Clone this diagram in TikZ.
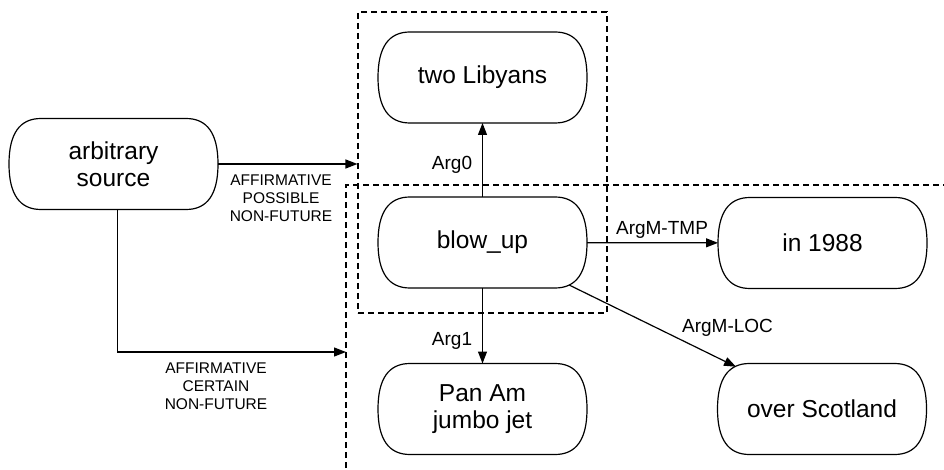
\documentclass[tikz,border=0pt]{standalone}
\usepackage{fontspec}
\setmainfont{Liberation Sans}
\usetikzlibrary{arrows.meta,calc}
\begin{document}
\begin{tikzpicture}[x=1pt,y=-1pt,
  box/.style={rectangle, outer sep=0pt, minimum width=209pt, minimum height=91pt,
    inner sep=0pt, align=center, font=\fontsize{24.5}{27}\selectfont},
  pill/.style={line width=1.2pt},
  dashbox/.style={draw, line width=1.1pt, dash pattern=on 6pt off 4pt},
  arr/.style={line width=1.2pt, -{Triangle[length=12pt,width=9pt]}},
  lab/.style={inner sep=0pt, anchor=base, font=\fontsize{19}{22}\selectfont},
  slab/.style={inner sep=0pt, align=center, font=\fontsize{15.5}{18}\selectfont}]
\useasboundingbox (0,0) rectangle (944,470);
% dashed groups
\node[dashbox, minimum width=249pt, minimum height=301pt, inner sep=0pt] (box1) at (482.5,162.5) {};
\draw[dashbox] (346,468) -- (346,185) -- (944,185);
\coordinate (b2) at (346,352);
% nodes
\node[box] (src) at (113.5,164) {arbitrary\\source};
\node[box] (lib) at (482.5,77.5) {two Libyans};
\node[box] (blow) at (482.5,242.5) {blow\_up};
\node[box] (yr) at (822.5,243) {in 1988};
\node[box] (pan) at (482.5,409) {Pan Am\\jumbo jet};
\node[box] (scot) at (822,409) {over Scotland};
% pill outlines
\foreach \n in {src,lib,blow,yr,pan,scot}{
  \draw[pill] ([xshift=32pt]\n.north west) -- ([xshift=-32pt]\n.north east)
    .. controls ([xshift=-10.67pt]\n.north east) and ($(\n.east)!2/3!(\n.north east)$) .. (\n.east)
    .. controls ($(\n.east)!2/3!(\n.south east)$) and ([xshift=-10.67pt]\n.south east) .. ([xshift=-32pt]\n.south east)
    -- ([xshift=32pt]\n.south west)
    .. controls ([xshift=10.67pt]\n.south west) and ($(\n.west)!2/3!(\n.south west)$) .. (\n.west)
    .. controls ($(\n.west)!2/3!(\n.north west)$) and ([xshift=10.67pt]\n.north west) .. ([xshift=32pt]\n.north west) -- cycle;
}
% connectors
\draw[arr] (src.east) -- (src.east -| box1.west);
\draw[arr] ([xshift=4pt]src.south) |- (b2);
\draw[arr] (blow) -- (lib);
\draw[arr] (blow) -- (yr);
\draw[arr] (blow) -- (pan);
\draw[arr, shorten <=-6.5pt, shorten >=-7.4pt] (blow) -- (scot);
% labels
\node[slab] (l1) at (281,198) {AFFIRMATIVE\\POSSIBLE\\NON-FUTURE};
\node[slab] (l2) at (216,386) {AFFIRMATIVE\\CERTAIN\\NON-FUTURE};
\node[lab] (a0) at (452,170) {Arg0};
\node[lab] (a1) at (452,345) {Arg1};
\node[lab] (at) at (662,234) {ArgM-TMP};
\node[lab] (al) at (727.5,332) {ArgM-LOC};
\end{tikzpicture}
\end{document}
